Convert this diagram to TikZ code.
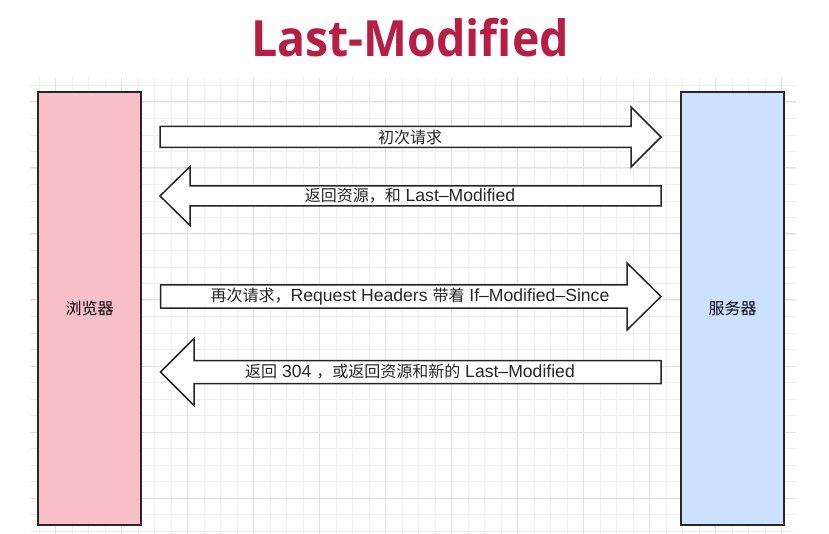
\documentclass[tikz,border=0pt]{standalone}
\usepackage{fontspec}
\setmainfont{Liberation Sans}[Scale=1.1]
\newfontfamily\cjk{Noto Sans CJK SC}
\newfontfamily\titlefont{Open Sans}
\definecolor{pinkfill}{HTML}{F9BFC9}
\definecolor{bluefill}{HTML}{CCE0FF}
\definecolor{edge}{HTML}{262626}
\definecolor{titlered}{HTML}{B71E44}
\definecolor{gridmin}{HTML}{EFEFF1}
\definecolor{gridmaj}{HTML}{E2E2E6}
\tikzset{
  gridminor/.style={draw=gridmin, line width=0.8pt},
  gridmajor/.style={draw=gridmaj, line width=1pt},
  sidebox/.style={draw=edge, line width=1.5pt, minimum width=103pt, minimum height=433pt, inner sep=0pt, font=\fontsize{16}{18}\selectfont\cjk},
  blockarrow/.style={draw=edge, fill=white, line width=1.5pt, line join=miter},
  lbl/.style={inner sep=0pt, font=\fontsize{16}{18}\selectfont, text=black!85},
}
\newcommand{\zh}[1]{{\cjk #1}}
% right-pointing block arrow: x1 xb xtip yc shaft-half head-half
\newcommand{\rarrow}[6]{\draw[blockarrow] (#1,#4-#5) -- (#2,#4-#5) -- (#2,#4-#6) -- (#3,#4) -- (#2,#4+#6) -- (#2,#4+#5) -- (#1,#4+#5) -- cycle;}
% left-pointing block arrow: xtip xb x2 yc shaft-half head-half
\newcommand{\larrow}[6]{\draw[blockarrow] (#3,#4-#5) -- (#2,#4-#5) -- (#2,#4-#6) -- (#1,#4) -- (#2,#4+#6) -- (#2,#4+#5) -- (#3,#4+#5) -- cycle;}
\begin{document}
\begin{tikzpicture}[x=1pt,y=-1pt]
\useasboundingbox (0,0) rectangle (829,534);
\fill[white] (0,0) rectangle (829,534);
% grid
\begin{scope}
\clip (30,78) rectangle (796,534);
\foreach \i in {0,...,46} {\draw[gridminor] ({39+16.5*\i},78) -- ({39+16.5*\i},534);}
\foreach \j in {0,...,27} {\draw[gridminor] (30,{85.5+16.5*\j}) -- (796,{85.5+16.5*\j});}
\foreach \i in {1,5,...,45} {\draw[gridmajor] ({39+16.5*\i},78) -- ({39+16.5*\i},534);}
\foreach \j in {1,5,...,25} {\draw[gridmajor] (30,{85.5+16.5*\j}) -- (796,{85.5+16.5*\j});}
\end{scope}
% title
\node[inner sep=0pt, text=titlered, font=\fontsize{50}{56}\selectfont\titlefont\bfseries, xscale=0.93] (title) at (410,38) {Last-Modified};
% side boxes
\node[sidebox, fill=pinkfill] (browser) at (89.5,308.5) {浏览器};
\node[sidebox, fill=bluefill] (server) at (732.5,308.5) {服务器};
% arrows
\rarrow{160}{631}{661}{137}{10.5}{30}
\larrow{160}{190}{661}{196}{10}{29.5}
\rarrow{160.5}{627}{661}{296.5}{11.5}{33.5}
\larrow{160.5}{194}{661}{372}{11.5}{33.5}
% labels
\node[lbl] (l1) at (410,137) {\zh{初次请求}};
\node[lbl] (l2) at (410,196) {\zh{返回资源，和} Last–Modified};
\node[lbl] (l3) at (410,296.5) {\zh{再次请求，}Request Headers \zh{带着} If–Modified–Since};
\node[lbl] (l4) at (410,372) {\zh{返回} 304 \zh{，或返回资源和新的} Last–Modified};
\end{tikzpicture}
\end{document}
